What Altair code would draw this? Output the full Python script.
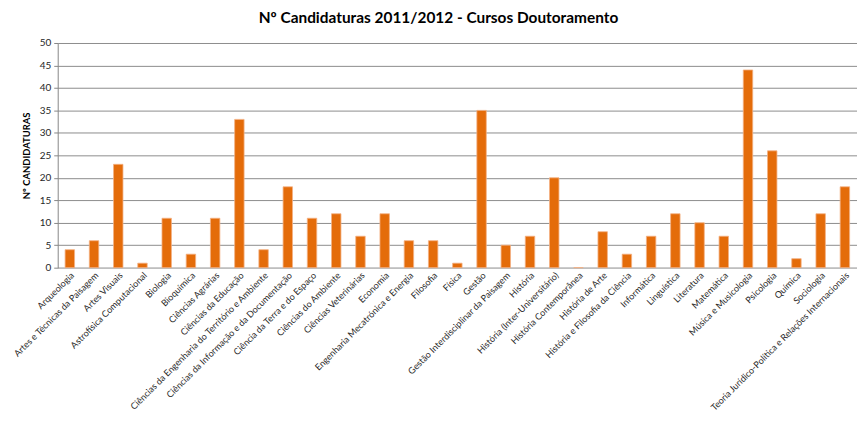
import altair as alt
import pandas as pd

cursos = [
    "Arqueologia", "Artes e Técnicas da Paisagem", "Artes Visuais", "Astrofísica Computacional",
    "Biologia", "Bioquímica", "Ciências Agrárias", "Ciências da Educação",
    "Ciências da Engenharia do Território  e Ambiente", "Ciências da Informação e da Documentação",
    "Ciência da Terra e do Espaço", "Ciências do Ambiente", "Ciências Veterinárias", "Economia",
    "Engenharia Mecatrónica e Energia", "Filosofia", "Física", "Gestão",
    "Gestão Interdisciplinar da Paisagem", "História", "História (Inter-Universitário)",
    "História Contemporânea", "História de Arte", "História e Filosofia da Ciência", "Informática",
    "Linguística", "Literatura", "Matemática", "Música e Musicologia", "Psicologia", "Química",
    "Sociologia", "Teoria Jurídico-Política e Relações Internacionais",
]
candidaturas = [4, 6, 23, 1, 11, 3, 11, 33, 4, 18, 11, 12, 7, 12, 6, 6, 1, 35, 5, 7, 20, 0, 8, 3,
                7, 12, 10, 7, 44, 26, 2, 12, 18]
y_ticks = list(range(0, 51, 5))

df = pd.DataFrame({"curso": cursos, "n": candidaturas})

FONT = "Lato"

chart = alt.Chart(df).mark_bar(
    color="#E46C0A", stroke="#F4B183", strokeWidth=0.8
).encode(
    x=alt.X("curso:N", sort=None, title=None,
            scale=alt.Scale(paddingInner=0.61, paddingOuter=0.305),
            axis=alt.Axis(labelAngle=-45, labelFontSize=9.1, labelFont=FONT, labelColor="#262626",
                          ticks=False, domainColor="#BFBFBF", domainWidth=1.5, labelPadding=3,
                          labelLimit=400, labelOverlap=False)),
    y=alt.Y("n:Q", title="Nº CANDIDATURAS",
            scale=alt.Scale(domain=[0, 50], nice=False),
            axis=alt.Axis(values=y_ticks, labelFontSize=10, labelFont=FONT, labelColor="#262626",
                          titleFont=FONT, titleFontSize=9.5, titleFontWeight="bold", titleColor="#000000",
                          titlePadding=8, gridColor="#8C8C8C", gridWidth=1,
                          domainColor="#868686", tickColor="#868686", tickSize=4, labelPadding=3)),
).properties(
    width=804, height=226,
    title=alt.TitleParams("Nº Candidaturas 2011/2012 - Cursos Doutoramento", font=FONT, fontSize=15.5,
                          fontWeight="bold", color="#000000", anchor="middle", dx=-19, offset=12),
    autosize=alt.AutoSizeParams(type="none"),
    padding={"left": 50, "top": 34, "right": 0, "bottom": 150},
).configure_view(stroke=None)

chart.save("out.html", embed_options={"renderer": "svg", "actions": False})
